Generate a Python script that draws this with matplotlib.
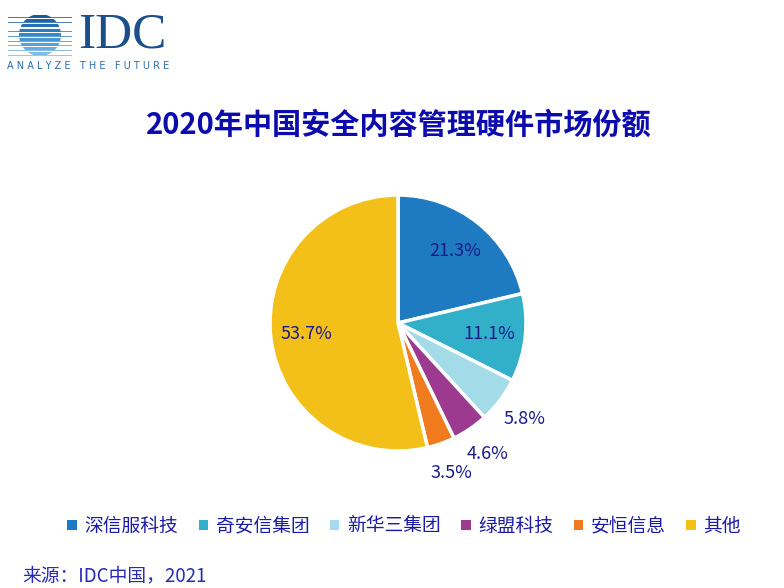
import numpy as np
import matplotlib
matplotlib.use("Agg")
import matplotlib.pyplot as plt
from matplotlib.patches import Patch, Circle, Rectangle

plt.rcParams['font.family'] = ['Noto Sans CJK SC', 'DejaVu Sans']

# data
vendors = ['深信服科技', '奇安信集团', '新华三集团', '绿盟科技', '安恒信息', '其他']
shares = [21.3, 11.1, 5.8, 4.6, 3.5, 53.7]
colors = ['#1f7bc1', '#33b0c9', '#a3dce8', '#9b3a8f', '#f07b1e', '#f3c019']
title = '2020年中国安全内容管理硬件市场份额'
source = '来源：IDC中国，2021'

W, H = 784, 588
fig = plt.figure(figsize=(W / 100, H / 100), dpi=100)

def px_axes(x, y, w, h):
    # x, y = top-left corner in pixels
    return fig.add_axes([x / W, 1 - (y + h) / H, w / W, h / H])

# logo
lg = px_axes(0, 0, 180, 80)
lg.set_xlim(0, 180)
lg.set_ylim(80, 0)
lg.axis('off')
circ = Circle((40, 35), 21, transform=lg.transData, facecolor='none', edgecolor='none')
lg.add_patch(circ)
stripe_cols = ['#1d5a9c', '#1f63a8', '#2570b5', '#2c7cc0', '#3688cb', '#4595d4', '#55a2dc', '#67afe3', '#7bbce9']
for i, c in enumerate(stripe_cols):
    yy = 14.5 + i * 4.7
    lg.add_patch(Rectangle((8, yy + 2.6), 64, 0.9, color=c, lw=0, alpha=0.8))
    r = Rectangle((10, yy), 60, 3.0, color=c, lw=0)
    lg.add_patch(r)
    r.set_clip_path(circ)
lg.text(78, 35, 'IDC', family='Liberation Serif', fontsize=37, color='#1b4f8c',
        va='center', ha='left')
lg.text(7, 66, 'A N A L Y Z E   T H E   F U T U R E', family='DejaVu Sans',
        fontsize=7.0, color='#2a6cb0', va='center', ha='left')

# title
fig.text(399 / W, 1 - 125 / H, title, ha='center', va='center',
         fontsize=21, fontweight='bold', color='#0c0cae')

# pie
R = 128
box = 150
ax = px_axes(398 - box, 323 - box, 2 * box, 2 * box)
wedges, _ = ax.pie(shares, colors=colors, startangle=90, counterclock=False,
                   radius=1, wedgeprops=dict(edgecolor='white', linewidth=2.5))
ax.set_xlim(-box / R, box / R)
ax.set_ylim(-box / R, box / R)
ax.set_aspect('equal')
ax.axis('off')

for w, s in zip(wedges, shares):
    mid = np.deg2rad((w.theta1 + w.theta2) / 2)
    d = 0.72 if s > 10 else 1.24
    ax.text(d * np.cos(mid), d * np.sin(mid), f'{s:.1f}%', ha='center', va='center',
            fontsize=13, color='#1a1a8c')

# legend
handles = [Patch(facecolor=c, edgecolor='none') for c in colors]
fig.legend(handles, vendors, loc='center', bbox_to_anchor=(404 / W, 1 - 526 / H),
           ncol=6, frameon=False, fontsize=13.5, handlelength=0.5, handleheight=0.5,
           handletextpad=0.4, columnspacing=1.1, labelcolor='#1a1aa8')

fig.text(22 / W, 1 - 576 / H, source, ha='left', va='center', fontsize=13.5,
         color='#2a2ab8')

fig.savefig('out.png', dpi=100)
